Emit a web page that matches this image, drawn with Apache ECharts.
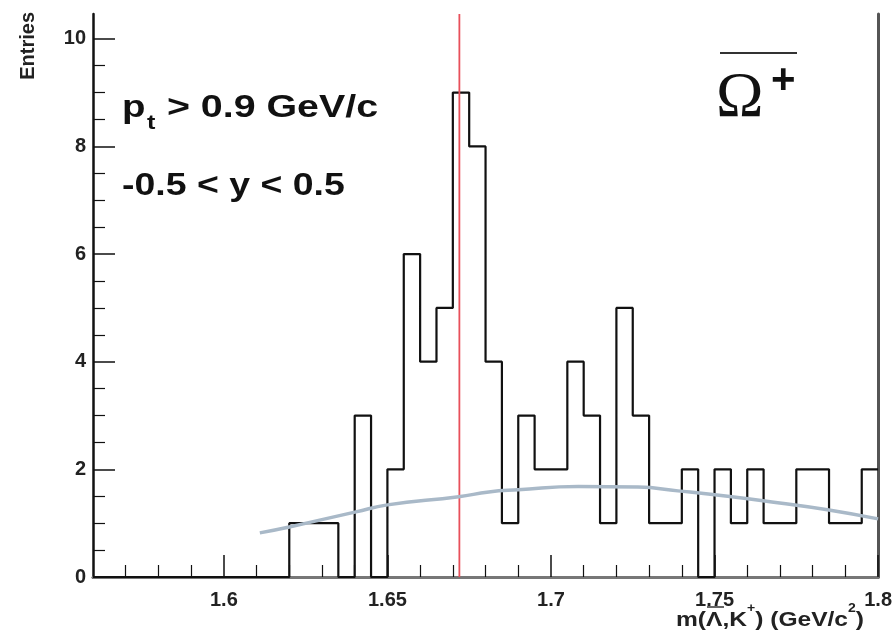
<!DOCTYPE html>
<html>
<head>
<meta charset="utf-8">
<script src="https://cdn.jsdelivr.net/npm/echarts@6/dist/echarts.min.js"></script>
<style>html,body{margin:0;padding:0;background:#fff;}#c{width:895px;height:637px;}</style>
</head>
<body>
<div id="c"></div>
<script>
// ---- data ----
const xMin = 1.56, xMax = 1.8, binWidth = 0.005;
const counts = [0,0,0,0,0,0,0,0,0,0,0,0, 1,1,1,0,3,0,2,6,4,5,9,8,4,1,3,2,2,4,3,1,5,3,1,1,2,0,2,1,2,1,1,2,2,1,1,2];
const fitX = [1.611, 1.620, 1.6404, 1.650, 1.6718, 1.681, 1.690, 1.7083, 1.7266, 1.7388, 1.754, 1.7693, 1.7845, 1.800];
const fitY = [0.82, 0.93, 1.21, 1.34, 1.49, 1.58, 1.62, 1.68, 1.67, 1.60, 1.50, 1.38, 1.25, 1.08];
const omegaMass = 1.672;
const xMajorTicks = [1.6, 1.65, 1.7, 1.75, 1.8];
const xMinorTicks = [1.57,1.58,1.59,1.61,1.62,1.63,1.64,1.66,1.67,1.68,1.69,1.71,1.72,1.73,1.74,1.76,1.77,1.78,1.79];
const yMajorTicks = [0, 2, 4, 6, 8, 10];
const yMinorTicks = [0.5,1,1.5,2.5,3,3.5,4.5,5,5.5,6.5,7,7.5,8.5,9,9.5];
const yMax = 10.46;

// histogram outline points (bin left edges, last right edge)
const histPts = counts.map((v, i) => [xMin + i * binWidth, v]);
histPts.push([xMax, counts[counts.length - 1]]);
const fitPts = fitX.map((x, i) => [x, fitY[i]]);
const markPts = [[omegaMass, 0], [omegaMass, yMax]];

const FONT = 'Liberation Sans, Arial, Helvetica, sans-serif';
const chart = echarts.init(document.getElementById('c'), null, {renderer: 'canvas'});
const fmtX = v => (Math.round(v * 100) / 100).toString();
const big = {fontFamily: FONT, fontWeight: 'bold', fontSize: 32, fill: '#111', textVerticalAlign: 'top'};
chart.setOption({
  animation: false,
  backgroundColor: '#ffffff',
  grid: {left: 93, right: 14, top: 14, bottom: 60, containLabel: false},
  xAxis: [
    {type: 'value', position: 'bottom', min: xMin, max: xMax,
     axisLine: {show: true, lineStyle: {color: '#111', width: 2.5}},
     axisTick: {show: true, inside: true, length: 22, lineStyle: {color: '#111', width: 1.5}, customValues: xMajorTicks},
     axisLabel: {show: true, customValues: xMajorTicks, formatter: fmtX, margin: 13,
       fontFamily: FONT, fontWeight: 'bold', fontSize: 20, color: '#222'},
     splitLine: {show: false}},
    {type: 'value', position: 'bottom', min: xMin, max: xMax,
     axisLine: {show: false},
     axisTick: {show: true, inside: true, length: 12, lineStyle: {color: '#111', width: 1.2}, customValues: xMinorTicks},
     axisLabel: {show: false}, splitLine: {show: false}},
    {type: 'value', position: 'top', min: xMin, max: xMax,
     axisLine: {show: true, lineStyle: {color: '#777', width: 3}},
     axisTick: {show: false}, axisLabel: {show: false}, splitLine: {show: false}}
  ],
  yAxis: [
    {type: 'value', position: 'left', min: 0, max: yMax,
     axisLine: {show: true, lineStyle: {color: '#111', width: 2.5}},
     axisTick: {show: true, inside: true, length: 22, lineStyle: {color: '#111', width: 1.5}, customValues: yMajorTicks},
     axisLabel: {show: true, customValues: yMajorTicks, margin: 7,
       fontFamily: FONT, fontWeight: 'bold', fontSize: 20, color: '#222'},
     splitLine: {show: false}},
    {type: 'value', position: 'left', min: 0, max: yMax,
     axisLine: {show: false},
     axisTick: {show: true, inside: true, length: 12, lineStyle: {color: '#111', width: 1.2}, customValues: yMinorTicks},
     axisLabel: {show: false}, splitLine: {show: false}},
    {type: 'value', position: 'right', min: 0, max: yMax,
     axisLine: {show: true, lineStyle: {color: '#555', width: 3}},
     axisTick: {show: false}, axisLabel: {show: false}, splitLine: {show: false}}
  ],
  series: [
    {type: 'line', name: 'data', xAxisIndex: 0, yAxisIndex: 0, data: histPts, step: 'end',
     symbol: 'none', lineStyle: {color: '#111', width: 2.2}, z: 3},
    {type: 'line', name: 'mass', xAxisIndex: 0, yAxisIndex: 0, data: markPts,
     symbol: 'none', lineStyle: {color: '#e8505a', width: 1.8}, z: 4},
    {type: 'line', name: 'fit', xAxisIndex: 0, yAxisIndex: 0, data: fitPts, smooth: true,
     symbol: 'none', lineStyle: {color: '#a9b9c8', width: 3.5}, z: 5}
  ],
  graphic: [
    {type: 'text', x: 18, y: 12, rotation: Math.PI / 2,
     style: {text: 'Entries', fontFamily: FONT, fontWeight: 'bold', fontSize: 20, fill: '#222', textAlign: 'right', textVerticalAlign: 'top'}},
    // pt label
    {type: 'text', x: 122, y: 92, scaleX: 1.2,
     style: Object.assign({text: 'p'}, big)},
    {type: 'text', x: 147, y: 113, scaleX: 1.2,
     style: {text: 't', fontFamily: FONT, fontWeight: 'bold', fontSize: 21, fill: '#111', textVerticalAlign: 'top'}},
    {type: 'text', x: 156, y: 92, scaleX: 1.23,
     style: Object.assign({text: ' > 0.9 GeV/c'}, big)},
    {type: 'text', x: 122, y: 170, scaleX: 1.17,
     style: Object.assign({text: '-0.5 < y < 0.5'}, big)},
    // Omega-bar+
    {type: 'text', x: 716, y: 67,
     style: {text: 'Ω', fontFamily: 'Liberation Serif, DejaVu Serif, serif', fontSize: 64, fill: '#111', textVerticalAlign: 'top'}},
    {type: 'text', x: 771, y: 60,
     style: {text: '+', fontFamily: FONT, fontWeight: 'bold', fontSize: 42, fill: '#111', textVerticalAlign: 'top'}},
    {type: 'line', shape: {x1: 720, y1: 53, x2: 797, y2: 53}, style: {stroke: '#333', lineWidth: 2}},
    // x axis title
    {type: 'text', x: 676, y: 603, scaleX: 1.17,
     style: {text: '{n|m(Λ,K}{s|+}{n|) (GeV/c}{s|2}{n|)}', textAlign: 'left', textVerticalAlign: 'top',
       rich: {n: {fontFamily: FONT, fontWeight: 'bold', fontSize: 21, fill: '#222', lineHeight: 28, verticalAlign: 'bottom'},
              s: {fontFamily: FONT, fontWeight: 'bold', fontSize: 12, fill: '#222', lineHeight: 28, verticalAlign: 'top'}}}},
    {type: 'line', shape: {x1: 707, y1: 607, x2: 724, y2: 607}, style: {stroke: '#333', lineWidth: 1.5}}
  ]
});
</script>
</body>
</html>
